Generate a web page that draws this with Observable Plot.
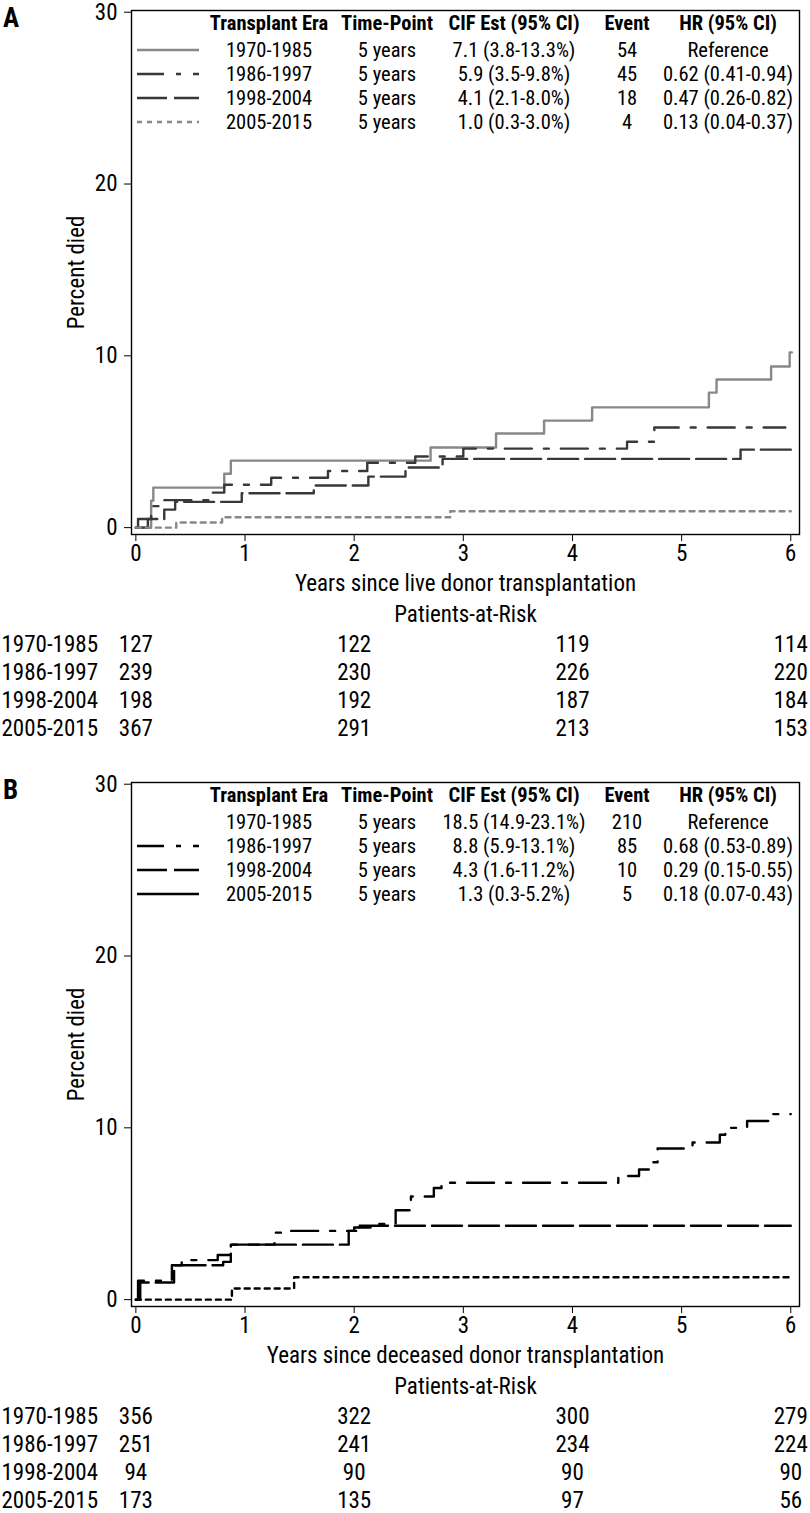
<!DOCTYPE html>
<html><head><meta charset="utf-8">
<script src="https://cdn.jsdelivr.net/npm/d3@7"></script>
<script src="https://cdn.jsdelivr.net/npm/@observablehq/plot@0.6"></script>
<style>
html,body{margin:0;padding:0;background:#fff;}
body{width:810px;height:1513px;overflow:hidden;position:relative;font-family:"Roboto Condensed","Liberation Sans",sans-serif;color:#000;}
.panel{position:absolute;left:0;width:810px;}
.panel svg{display:block;}
.plabel{position:absolute;left:3px;top:5px;font-weight:bold;font-size:27px;line-height:27px;}
.leg{position:absolute;font-size:20.5px;line-height:22px;transform:translate(-50%,-50%);white-space:nowrap;}
.legh{font-weight:bold;}
.samp{position:absolute;left:137px;width:62px;height:6px;transform:translateY(-50%);overflow:visible;}
</style></head><body>
<div id="A" class="panel" style="top:0px"></div>
<div id="B" class="panel" style="top:772px"></div>
<script>
// ---------- data ----------
const eras = ["1970-1985", "1986-1997", "1998-2004", "2005-2015"];
const xTicks = [0, 1, 2, 3, 4, 5, 6];
const yTicks = [0, 10, 20, 30];
const riskTimes = [0, 2, 4, 6];

// Panel A: live donor — percent died (cumulative incidence), step curves
const liveT_1970 = [0, 0.14, 0.16, 0.81, 0.87, 2.70, 3.30, 3.74, 4.18, 5.25, 5.32, 5.82, 5.99, 6.01];
const liveV_1970 = [0, 1.57, 2.33, 3.14, 3.90, 4.66, 5.48, 6.23, 7.00, 7.86, 8.62, 9.38, 10.2, 10.2];
const liveT_1986 = [0, 0.02, 0.14, 0.22, 0.70, 0.81, 1.24, 1.76, 2.12, 2.56, 3.00, 4.50, 4.75, 5.95];
const liveV_1986 = [0, 0.50, 1.25, 1.60, 2.04, 2.50, 2.90, 3.30, 3.78, 4.14, 4.60, 5.00, 5.83, 5.83];
const liveT_1998 = [0, 0.11, 0.26, 0.36, 0.97, 1.63, 2.13, 2.47, 2.81, 5.54, 6.00];
const liveV_1998 = [0, 0.50, 1.05, 1.50, 2.00, 2.45, 2.97, 3.50, 4.00, 4.54, 4.54];
const liveT_2005 = [0, 0.37, 0.79, 2.88, 6.00];
const liveV_2005 = [0, 0.30, 0.60, 0.95, 0.95];

// Panel B: deceased donor
const decT_1986 = [0, 0.02, 0.33, 0.42, 0.75, 0.87, 1.27, 1.33, 2.00, 2.15, 2.38, 2.52, 2.73, 2.80, 4.42, 4.61, 4.72, 4.78, 5.10, 5.35, 5.40, 5.60, 5.82, 6.00];
const decV_1986 = [0, 1.10, 2.00, 2.30, 2.60, 3.20, 3.90, 4.00, 4.20, 4.40, 5.20, 6.00, 6.50, 6.80, 7.20, 7.57, 8.00, 8.80, 9.15, 9.60, 10.0, 10.4, 10.8, 10.8];
const decT_1998 = [0, 0.04, 0.35, 0.80, 0.87, 1.95, 2.05, 6.00];
const decV_1998 = [0, 1.00, 2.00, 2.20, 3.20, 4.00, 4.30, 4.30];
const decT_2005 = [0, 0.88, 1.45, 6.00];
const decV_2005 = [0, 0.65, 1.30, 1.30];

// Legend tables
const legHeaders = ["Transplant Era", "Time-Point", "CIF Est (95% CI)", "Event", "HR (95% CI)"];
const timePoint = ["5 years", "5 years", "5 years", "5 years"];
const liveCIF = ["7.1 (3.8-13.3%)", "5.9 (3.5-9.8%)", "4.1 (2.1-8.0%)", "1.0 (0.3-3.0%)"];
const liveEvents = ["54", "45", "18", "4"];
const liveHR = ["Reference", "0.62 (0.41-0.94)", "0.47 (0.26-0.82)", "0.13 (0.04-0.37)"];
const decCIF = ["18.5 (14.9-23.1%)", "8.8 (5.9-13.1%)", "4.3 (1.6-11.2%)", "1.3 (0.3-5.2%)"];
const decEvents = ["210", "85", "10", "5"];
const decHR = ["Reference", "0.68 (0.53-0.89)", "0.29 (0.15-0.55)", "0.18 (0.07-0.43)"];

// Patients-at-risk
const liveRisk_1970 = [127, 122, 119, 114];
const liveRisk_1986 = [239, 230, 226, 220];
const liveRisk_1998 = [198, 192, 187, 184];
const liveRisk_2005 = [367, 291, 213, 153];
const decRisk_1970 = [356, 322, 300, 279];
const decRisk_1986 = [251, 241, 234, 224];
const decRisk_1998 = [94, 90, 90, 90];
const decRisk_2005 = [173, 135, 97, 56];

// ---------- drawing ----------
const FONT = '"Roboto Condensed","Liberation Sans",sans-serif';
const FS = "23px";
const XDOM = [-0.04, 6.08];
const ML = 131, MR = 11;

const toRows = (t, v) => t.map((d, i) => ({t: d, v: v[i]}));

function chart(curves, xlabel) {
  return Plot.plot({
    width: 810, height: 600,
    marginLeft: ML, marginRight: MR, marginTop: 10, marginBottom: 66,
    style: {fontFamily: FONT, fontSize: FS, color: "#000", background: "transparent", overflow: "visible"},
    x: {domain: XDOM},
    y: {domain: [-0.4, 30.1]},
    marks: [
      ...curves.map(c => Plot.line(c.rows, {x: "t", y: "v", curve: "step-after", stroke: c.color, strokeWidth: 2.4, strokeDasharray: c.dash})),
      Plot.frame({stroke: "#000", strokeWidth: 1.4}),
      Plot.axisX({ticks: xTicks, tickSize: 7, tickPadding: 3, tickFormat: d => String(d), label: xlabel, labelAnchor: "center", labelArrow: "none", labelOffset: 56}),
      Plot.axisY({ticks: yTicks, tickSize: 7, tickPadding: 7, tickFormat: d => String(d), label: "Percent died", labelAnchor: "center", labelArrow: "none", labelOffset: 64})
    ]
  });
}

function riskTable(riskArrays) {
  const rows = [];
  riskArrays.forEach((arr, i) => arr.forEach((n, j) => rows.push({era: eras[i], t: riskTimes[j], n})));
  return Plot.plot({
    width: 810, height: 145,
    marginLeft: ML, marginRight: MR, marginTop: 43, marginBottom: 16,
    style: {fontFamily: FONT, fontSize: FS, color: "#000", background: "transparent", overflow: "visible"},
    x: {domain: XDOM, axis: null},
    y: {type: "point", domain: eras, padding: 0},
    marks: [
      Plot.text(rows, {x: "t", y: "era", text: d => String(d.n)}),
      Plot.axisY({tickSize: 0, tickPadding: 0, textAnchor: "start", dx: -ML + 1, label: null}),
      Plot.text(["Patients-at-Risk"], {frameAnchor: "top", dy: -38, text: d => d})
    ]
  });
}

const colX = [269, 387, 514, 627, 728];
const headY = 23, rowY = [50, 74, 98, 122];

function legend(container, cols, styles) {
  legHeaders.forEach((h, j) => {
    const d = document.createElement("div");
    d.className = "leg legh"; d.textContent = h;
    d.style.left = colX[j] + "px"; d.style.top = headY + "px";
    container.appendChild(d);
  });
  eras.forEach((e, i) => {
    const vals = [e, timePoint[i], cols[0][i], cols[1][i], cols[2][i]];
    vals.forEach((v, j) => {
      const d = document.createElement("div");
      d.className = "leg"; d.textContent = v;
      d.style.left = colX[j] + "px"; d.style.top = rowY[i] + "px";
      container.appendChild(d);
    });
    const s = styles[i];
    if (s) {
      const ns = "http://www.w3.org/2000/svg";
      const svg = document.createElementNS(ns, "svg");
      svg.setAttribute("class", "samp");
      svg.setAttribute("width", "62"); svg.setAttribute("height", "6");
      svg.style.top = rowY[i] + "px";
      const ln = document.createElementNS(ns, "line");
      ln.setAttribute("x1", 0); ln.setAttribute("x2", 62); ln.setAttribute("y1", 3); ln.setAttribute("y2", 3);
      ln.setAttribute("stroke", s.color); ln.setAttribute("stroke-width", 2.5);
      if (s.dash) ln.setAttribute("stroke-dasharray", s.dash);
      svg.appendChild(ln);
      container.appendChild(svg);
    }
  });
}

const DASHDOT = "27,12,5,12", LONGDASH = "30,7", DOT = "5,5";

// Panel A
const stylesA = [
  {color: "#888", dash: null},
  {color: "#383838", dash: DASHDOT},
  {color: "#383838", dash: LONGDASH},
  {color: "#888", dash: DOT}
];
const curvesA = [
  {rows: toRows(liveT_1970, liveV_1970), ...stylesA[0]},
  {rows: toRows(liveT_1986, liveV_1986), ...stylesA[1]},
  {rows: toRows(liveT_1998, liveV_1998), ...stylesA[2]},
  {rows: toRows(liveT_2005, liveV_2005), ...stylesA[3]}
];
const pA = document.getElementById("A");
pA.appendChild(chart(curvesA, "Years since live donor transplantation"));
pA.appendChild(riskTable([liveRisk_1970, liveRisk_1986, liveRisk_1998, liveRisk_2005]));
legend(pA, [liveCIF, liveEvents, liveHR], stylesA);
const la = document.createElement("div"); la.className = "plabel"; la.textContent = "A"; pA.appendChild(la);

// Panel B
const curvesB = [
  {rows: toRows(decT_1986, decV_1986), color: "#000", dash: DASHDOT},
  {rows: toRows(decT_1998, decV_1998), color: "#000", dash: LONGDASH},
  {rows: toRows(decT_2005, decV_2005), color: "#000", dash: DOT}
];
const stylesBLegend = [null, {color: "#000", dash: DASHDOT}, {color: "#000", dash: LONGDASH}, {color: "#000", dash: null}];
const pB = document.getElementById("B");
pB.appendChild(chart(curvesB, "Years since deceased donor transplantation"));
pB.appendChild(riskTable([decRisk_1970, decRisk_1986, decRisk_1998, decRisk_2005]));
legend(pB, [decCIF, decEvents, decHR], stylesBLegend);
const lb = document.createElement("div"); lb.className = "plabel"; lb.textContent = "B"; pB.appendChild(lb);
</script>
</body></html>
